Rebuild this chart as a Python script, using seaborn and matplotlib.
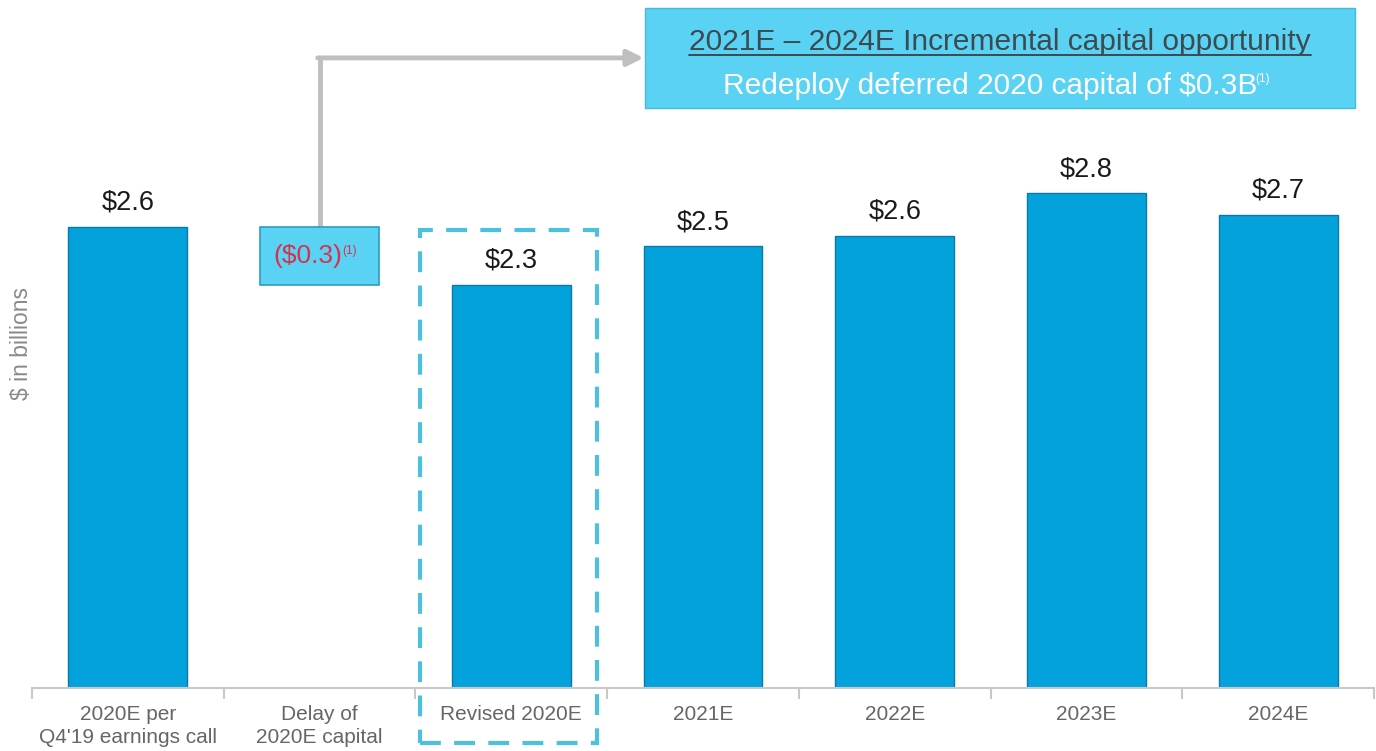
import matplotlib
matplotlib.use("Agg")
import matplotlib.pyplot as plt
from matplotlib.patches import Rectangle
from matplotlib.ticker import FixedLocator, NullFormatter
import seaborn as sns
import pandas as pd
import numpy as np

# ---- data ----
categories = ["2020E per\nQ4'19 earnings call", "Delay of\n2020E capital", "Revised 2020E",
              "2021E", "2022E", "2023E", "2024E"]
bar_cats = ["2020E per\nQ4'19 earnings call", "Revised 2020E", "2021E", "2022E", "2023E", "2024E"]
bar_values = [2.62, 2.29, 2.51, 2.57, 2.81, 2.69]
bar_labels = ["$2.6", "$2.3", "$2.5", "$2.6", "$2.8", "$2.7"]
delay_start = 2.62
delay_delta = -0.33
delay_label = "($0.3)"
box_title = "2021E \u2013 2024E Incremental capital opportunity"
box_sub = "Redeploy deferred 2020 capital of $0.3B"
footnote = "(1)"
y_label = "$ in billions"

sns.set_theme(style="white")
plt.rcParams['font.family'] = ['Liberation Sans', 'DejaVu Sans']

fig = plt.figure(figsize=(13.76, 7.51), dpi=100)
ax = fig.add_axes([0.0233, 0.0839, 0.9753, 0.9161])

BAR = "#03A2DC"
EDGE = "#0B79A3"
LIGHT = "#5AD2F4"

df = pd.DataFrame({"cat": bar_cats, "val": bar_values})
sns.barplot(data=df, x="cat", y="val", order=categories, color=BAR, saturation=1,
            width=0.62, edgecolor=EDGE, linewidth=1.0, ax=ax)

# floating delay bar
di = categories.index("Delay of\n2020E capital")
ax.bar(di, -delay_delta, bottom=delay_start + delay_delta, width=0.62,
       color=LIGHT, edgecolor="#2C9CC0", linewidth=1.2, zorder=3)
mt = ax.text(di - 0.06, delay_start + delay_delta / 2, delay_label, ha="center", va="center",
             fontsize=19, color="#D2344F", zorder=5)
ax.annotate(footnote, xy=(0.99, 0.95), xycoords=mt, ha="left", va="top",
            fontsize=8.5, color="#D2344F", zorder=5)

# value labels
for c, v, l in zip(bar_cats, bar_values, bar_labels):
    ax.annotate(l, xy=(categories.index(c), v), xytext=(0, 8), textcoords="offset points",
                ha="center", va="bottom", fontsize=19.5, color="#1a1a1a")

ax.set_xlim(-0.5, 6.5)
ax.set_ylim(0, 3.909)
ax.set_xlabel("")
ax.set_ylabel(y_label, fontsize=16.5, color="#8a8a8a")
ax.yaxis.set_label_coords(0.001, 0.50)
ax.set_yticks([])
ax.set_xticks(range(len(categories)))
ax.set_xticklabels(categories, fontsize=15, color="#666666", linespacing=1.3)
ax.tick_params(axis="x", which="major", length=0, pad=12)
ax.xaxis.set_minor_locator(FixedLocator(np.arange(-0.5, 7.0, 1.0)))
ax.xaxis.set_minor_formatter(NullFormatter())
ax.tick_params(axis="x", which="minor", length=8, width=1.5, color="#C8C8C8", bottom=True)
for s in ["top", "right", "left"]:
    ax.spines[s].set_visible(False)
ax.spines["bottom"].set_color("#C8C8C8")
ax.spines["bottom"].set_linewidth(1.5)

# dashed highlight box around Revised 2020E
dash = Rectangle((1.524, -0.313), 0.923, 2.913, fill=False, edgecolor="#4DC0DE",
                 linewidth=3.0, linestyle=(0, (5, 3.2)), clip_on=False, zorder=4)
ax.add_patch(dash)

# gray elbow arrow
ax.plot([di, di], [delay_start, 3.58], color="#BFBFBF", lw=3.5, solid_capstyle="butt", zorder=2)
ax.annotate("", xy=(2.69, 3.58), xytext=(di - 0.01, 3.58),
            arrowprops=dict(arrowstyle="-|>,head_length=0.8,head_width=0.4", color="#BFBFBF", lw=3.5,
                            shrinkA=0, shrinkB=0), zorder=2)

# top callout box
shadow = Rectangle((2.704, 3.290), 3.703, 0.569, facecolor="#6f8790", edgecolor="none",
                   clip_on=False, zorder=3, alpha=0.55)
ax.add_patch(shadow)
box = Rectangle((2.698, 3.295), 3.703, 0.569, facecolor=LIGHT, edgecolor="#45BBDD",
                linewidth=1.0, clip_on=False, zorder=4)
ax.add_patch(box)
cx = (2.698 + 6.401) / 2
t1 = ax.text(cx, 3.672, box_title, ha="center", va="center", fontsize=21.5,
             color="#3d4a50", zorder=5)
t2 = ax.text(cx - 0.05, 3.422, box_sub, ha="center", va="center", fontsize=21.5,
             color="white", zorder=5)
ax.annotate(footnote, xy=(0.995, 0.97), xycoords=t2, ha="left", va="top", fontsize=8.5,
            color="white", zorder=5)

# underline of the title
fig.canvas.draw()
bb = t1.get_window_extent(renderer=fig.canvas.get_renderer())
inv = ax.transData.inverted()
(x0, y0), (x1, _) = inv.transform([(bb.x0, bb.y0), (bb.x1, bb.y0)])
ax.plot([x0, x1], [y0 + 0.004, y0 + 0.004], color="#3d4a50", lw=1.4, zorder=5, clip_on=False)

fig.savefig("out.png", dpi=100, facecolor="white")
